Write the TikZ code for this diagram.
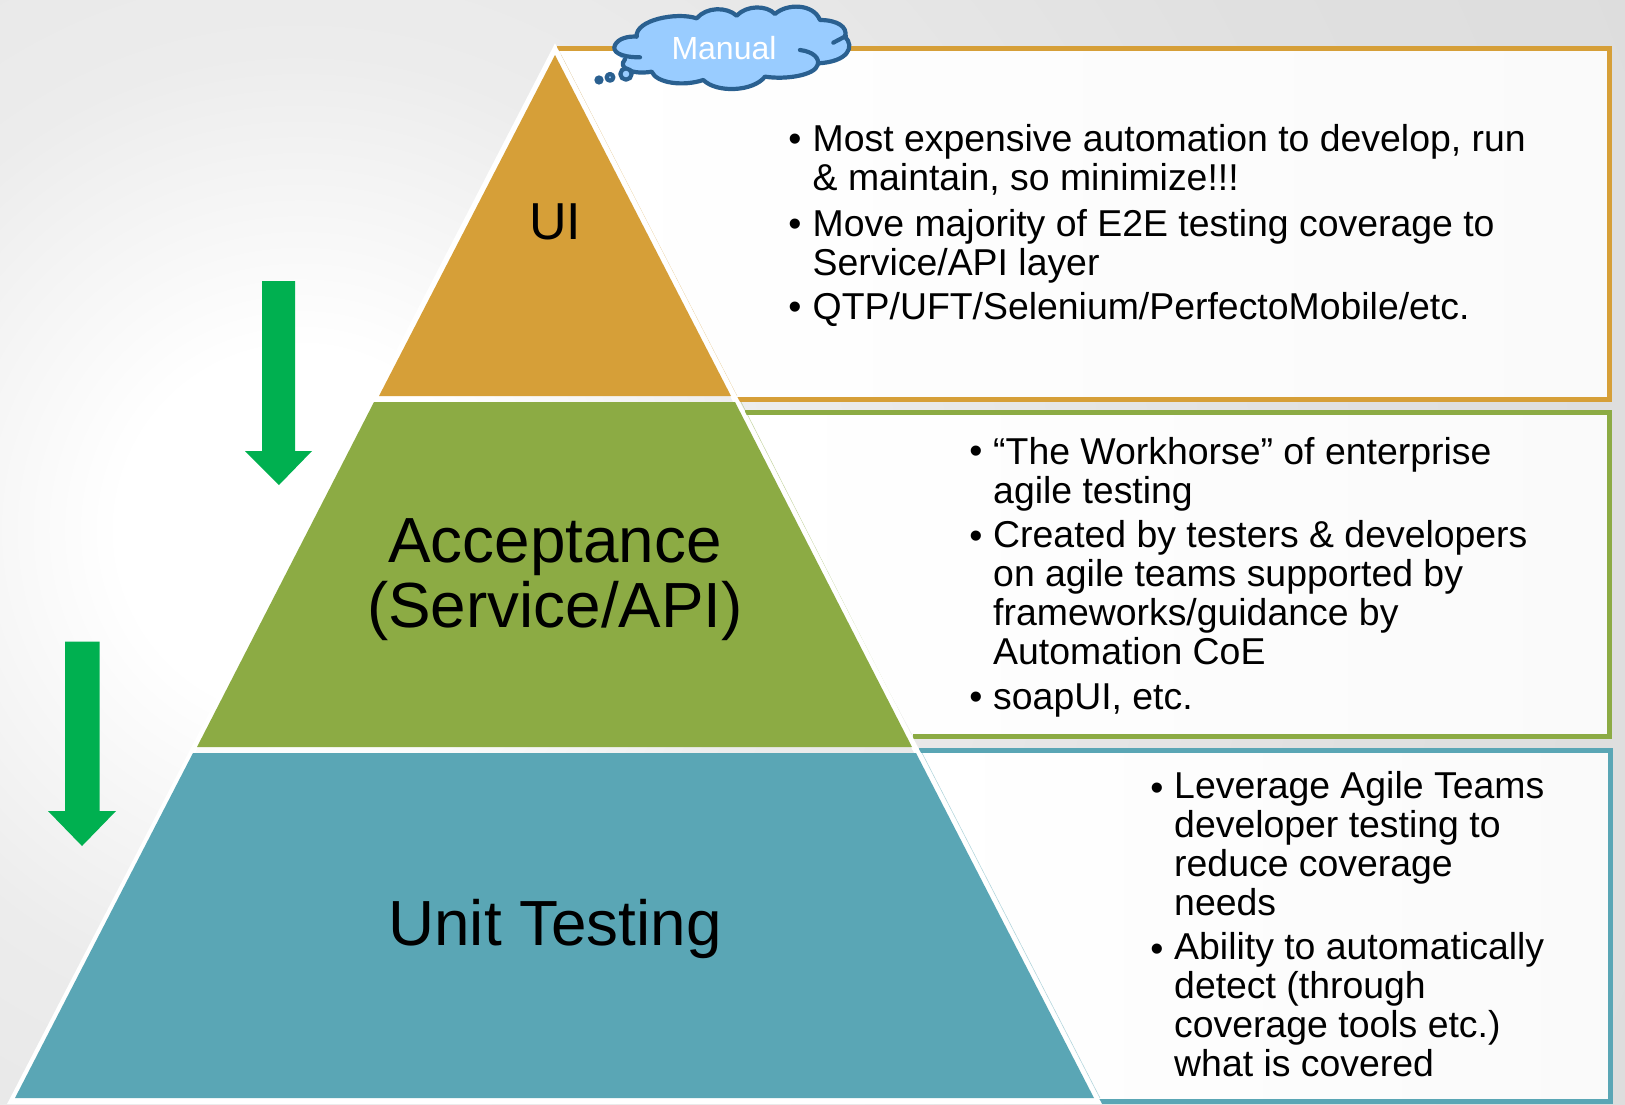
\documentclass[tikz,border=0pt]{standalone}
\usepackage{fontspec}
\setmainfont{Liberation Sans}
\definecolor{goldc}{HTML}{D69F38}
\definecolor{greenc}{HTML}{8CAB44}
\definecolor{tealc}{HTML}{5AA6B5}
\definecolor{arrowc}{HTML}{00B050}
\definecolor{cloudink}{HTML}{2A6090}
\definecolor{cloudfill}{HTML}{99CCFF}
\definecolor{bgA}{HTML}{ECECEC}
\definecolor{bgB}{HTML}{E0E0E0}
\definecolor{bgC}{HTML}{D2D2D2}
\definecolor{panelend}{HTML}{FAFAFA}
\pgfdeclareradialshading{pagebg}{\pgfpointorigin}{color(0bp)=(white); color(3bp)=(white); color(8bp)=(bgA); color(18bp)=(bgB); color(48bp)=(bgC); color(50bp)=(bgC)}
\tikzset{
  x=1pt,y=-1pt,
  tier/.style={draw=white,line width=6pt,line join=miter},
  panel/.style={left color=white,right color=panelend,draw=none},
  frame/.style={line width=5pt,line cap=butt,line join=miter},
  downarrow/.style={fill=arrowc,draw=none},
  tierlabel/.style={font=\fontsize{63.8}{65}\selectfont,align=center,inner sep=0pt},
  listtext/.style={font=\fontsize{37.4}{38.8}\selectfont,align=left,inner sep=0pt,anchor=base west},
  bulletmark/.style={font=\fontsize{37.4}{38.8}\selectfont,inner sep=0pt,anchor=base},
  paleedge/.style={line width=0.5pt,opacity=0.5},
  cloudstroke/.style={draw=cloudink,line width=4.2pt,line cap=round,line join=round},
}
\begin{document}
\begin{tikzpicture}
\useasboundingbox (0,0) rectangle (1625,1104);
\begin{scope}
\clip (0,0) rectangle (1625,1104);
\shade[shading=pagebg] (300,530) circle[radius=1500pt];
\end{scope}

% panels
\shade[panel] (558,48) -- (1609,48) -- (1609,399) -- (737,399) -- cycle;
\shade[panel] (740,412) -- (1609,412) -- (1609,736) -- (913,736) -- cycle;
\shade[panel] (915,750) -- (1610,750) -- (1610,1101) -- (1096,1101) -- cycle;
\draw[frame,goldc] (557,48.5) -- (1609,48.5) -- (1609,399) -- (737,399);
\draw[frame,greenc] (745,412.5) -- (1609,412.5) -- (1609,736) -- (913,736);
\draw[frame,tealc] (919,750) -- (1610,750) -- (1610,1101) -- (1098,1101);
\draw[paleedge,goldc] (561,55) -- (737,396);
\draw[paleedge,greenc] (741,402) -- (917,747);
\draw[paleedge,tealc] (922,753) -- (1100,1098);

% pyramid
\path[tier] (555,50) -- (1097,1101) -- (12,1101) -- cycle;
\fill[goldc] (555,55) -- (731,396) -- (379,396) -- cycle;
\fill[greenc] (374,402) -- (735,402) -- (912,747) -- (197,747) -- cycle;
\fill[tealc] (193,753) -- (916,753) -- (1094,1098) -- (15,1098) -- cycle;

\node[tierlabel,font=\fontsize{52}{54}\selectfont] (ui) at (555,222) {UI};
\node[tierlabel] (acc) at (555,579.5) {Acceptance\\(Service/API)};
\node[tierlabel] (unit) at (555,929) {Unit Testing};

% arrows
\fill[downarrow] (262,281) -- (295,281) -- (295,451) -- (312,451) -- (279,485) -- (245,451) -- (262,451) -- cycle;
\fill[downarrow] (65,641.5) -- (99.5,641.5) -- (99.5,811) -- (116,811) -- (82,846) -- (48,811) -- (65,811) -- cycle;

% cloud (coordinates from a 3x crop at origin (520,0))
\begin{scope}[shift={(520,0)},x=0.3333pt,y=-0.3333pt]
\path[fill=cloudfill] (350,105) .. controls (360,60) and (470,35) .. (530,50)
  .. controls (560,20) and (620,20) .. (650,45)
  .. controls (680,15) and (740,15) .. (765,40)
  .. controls (800,10) and (880,10) .. (900,60)
  .. controls (950,60) and (985,80) .. (975,110)
  .. controls (1005,140) and (985,185) .. (895,190)
  .. controls (905,220) and (800,245) .. (735,232)
  .. controls (700,275) and (590,280) .. (550,240)
  .. controls (490,260) and (410,250) .. (395,215)
  .. controls (340,225) and (290,205) .. (315,178)
  .. controls (270,165) and (270,115) .. (350,110) -- cycle;
\draw[cloudstroke] (360,172) .. controls (300,172) and (275,155) .. (285,135)
  .. controls (295,115) and (325,108) .. (350,110)
  .. controls (345,60) and (470,35) .. (530,55)
  .. controls (560,20) and (620,20) .. (650,47)
  .. controls (680,15) and (740,15) .. (765,42)
  .. controls (800,10) and (880,10) .. (900,60)
  .. controls (950,60) and (985,80) .. (975,110)
  .. controls (1005,140) and (985,185) .. (895,190);
\draw[cloudstroke] (840,150) .. controls (880,155) and (900,175) .. (893,195)
  .. controls (885,225) and (800,240) .. (735,230)
  .. controls (700,275) and (590,280) .. (550,240)
  .. controls (490,260) and (410,250) .. (395,215)
  .. controls (340,225) and (290,205) .. (315,178);
\draw[cloudstroke] (940,128) -- (978,108);
\draw[cloudstroke,fill=cloudfill] (318,222) circle[radius=17];
\draw[cloudstroke,fill=cloudfill] (270,232) circle[radius=10];
\fill[fill=cloudink] (237,240) circle[radius=14];
\end{scope}
\node[font=\fontsize{32}{33}\selectfont,text=white,inner sep=0pt] (manual) at (724,48) {Manual};

% lists
\node[bulletmark] (b1) at (795,151) {•};
\node[listtext] (t1) at (812.5,190) {Most expensive automation to develop, run\\\& maintain, so minimize!!!};
\node[bulletmark] (b2) at (795,236) {•};
\node[listtext] (t2) at (812.5,275) {Move majority of E2E testing coverage to\\Service/API layer};
\node[bulletmark] (b3) at (795,319) {•};
\node[listtext] (t3) at (812.5,319) {QTP/UFT/Selenium/PerfectoMobile/etc.};

\node[bulletmark] (b4) at (976,463) {•};
\node[listtext] (t4) at (993,503) {“The Workhorse” of enterprise\\agile testing};
\node[bulletmark] (b5) at (976,548) {•};
\node[listtext] (t5) at (993,664) {Created by testers \& developers\\on agile teams supported by\\frameworks/guidance by\\Automation CoE};
\node[bulletmark] (b6) at (976,709) {•};
\node[listtext] (t6) at (993,709) {soapUI, etc.};

\node[bulletmark] (b7) at (1157,800) {•};
\node[listtext] (t7) at (1174,915) {Leverage Agile Teams\\developer testing to\\reduce coverage\\needs};
\node[bulletmark] (b8) at (1157,961) {•};
\node[listtext] (t8) at (1174,1076) {Ability to automatically\\detect (through\\coverage tools etc.)\\what is covered};
\end{tikzpicture}
\end{document}
